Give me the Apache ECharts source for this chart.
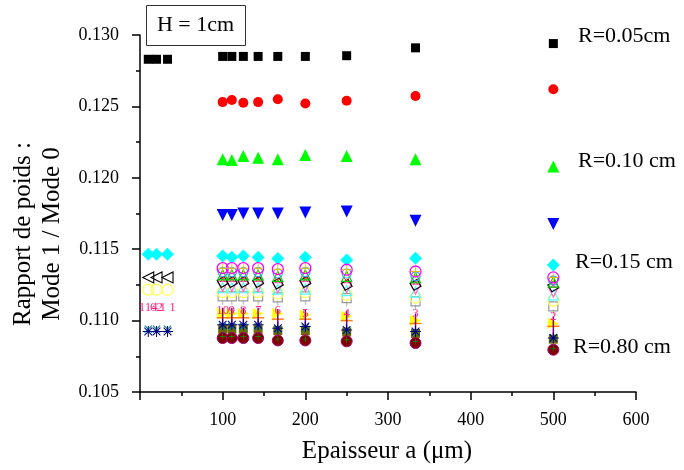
<!DOCTYPE html>
<html><head><meta charset="utf-8">
<script src="https://cdn.jsdelivr.net/npm/echarts@6/dist/echarts.min.js"></script>
<style>html,body{margin:0;padding:0;background:#fff}#c{width:684px;height:470px}</style>
</head><body><div id="c"></div>
<script>
// ---- data ----
const xLeft = [10, 20, 33.3];
const xMain = [100, 111.1, 125, 142.9, 166.7, 200, 250, 333.3, 500];
const xAll = xLeft.concat(xMain);
const xTicks = [0, 100, 200, 300, 400, 500, 600];
const yTicks = [0.105, 0.110, 0.115, 0.120, 0.125, 0.130];

const yBlackSquare   = [0.1283, 0.1283, 0.1283, 0.1285, 0.1285, 0.1285, 0.1285, 0.1285, 0.1285, 0.12855, 0.1291, 0.1294];
const yRedCircle     = [0.1253, 0.12545, 0.12526, 0.1253, 0.1255, 0.1252, 0.1254, 0.12573, 0.1262];
const yGreenTri      = [0.1213, 0.12125, 0.12153, 0.1214, 0.1213, 0.1216, 0.12153, 0.1213, 0.1208];
const yBlueDown      = [0.1174, 0.1174, 0.1175, 0.1175, 0.1175, 0.11757, 0.11764, 0.1170, 0.11677];
const yCyanDiamond   = [0.11465, 0.11465, 0.11465, 0.11453, 0.11444, 0.11453, 0.11444, 0.11435, 0.11444, 0.11425, 0.11437, 0.1139];
const yMagentaCircle = [0.11367, 0.11367, 0.11367, 0.11367, 0.1136, 0.11367, 0.11356, 0.11344, 0.11302];
const yBlueCircle    = [0.1134, 0.1134, 0.1134, 0.1134, 0.1133, 0.1134, 0.1133, 0.1131, 0.1128];
const yGreenTriOpen  = [0.1132, 0.1132, 0.1132, 0.1132, 0.1131, 0.1132, 0.1131, 0.1130, 0.1127];
const yRedX          = [0.1129, 0.1129, 0.1129, 0.1129, 0.1128, 0.1129, 0.1128, 0.1127, 0.1125];
const yBlackDiamond  = [0.1127, 0.1127, 0.1127, 0.1127, 0.1126, 0.1127, 0.1125, 0.1125, 0.1124];
const yBlackLeftTri  = [0.11302, 0.11302, 0.11302];
const yMagentaDown   = [0.1124, 0.1124, 0.1124, 0.1124, 0.1123, 0.1124, 0.1123, 0.1122, 0.1120];
const yCyanUpOpen    = [0.1123, 0.1123, 0.1123, 0.1123, 0.1122, 0.1122, 0.1121, 0.1120, 0.1118];
const yYellowCircle  = [0.11216, 0.11216, 0.11216, 0.1120, 0.1120, 0.1120, 0.1120, 0.1119, 0.1120, 0.1118, 0.1116, 0.1114];
const yGraySquare    = [0.11169, 0.11169, 0.11169, 0.11169, 0.11162, 0.11169, 0.11157, 0.11134, 0.1110];
const yPinkText      = [0.11092, 0.11092, 0.11092, 0.1107, 0.1107, 0.1107, 0.1107, 0.1107, 0.1105, 0.1105, 0.1105, 0.1103];
const pinkLabels     = ['114', '62', '1 1', '10', '9', '8', '7', '6', '5', '4', '3', '2'];
const yYellowRight   = [0.1105, 0.1105, 0.1105, 0.1105, 0.1105, 0.1104, 0.1103, 0.1100, 0.1098];
const yPurpleBar     = [0.1102, 0.1102, 0.1102, 0.1102, 0.1101, 0.1101, 0.1100, 0.1098, 0.1096];
const yNavyStar      = [0.10924, 0.10924, 0.10924, 0.10971, 0.10971, 0.10971, 0.10971, 0.10947, 0.10959, 0.10935, 0.10924, 0.10878];
const yTealX         = [0.1094, 0.1094, 0.1094, 0.1096, 0.1096, 0.1096, 0.1096, 0.1094, 0.1095, 0.1093, 0.1092, 0.1088];
const yOliveSquare   = [0.1094, 0.1094, 0.1094, 0.1094, 0.1093, 0.1093, 0.1092, 0.1091, 0.1087];
const yDarkRedCircle = [0.10878, 0.10878, 0.10878, 0.10878, 0.10861, 0.10861, 0.10855, 0.10843, 0.10796];

// ---- chart ----
const FONT = 'Liberation Serif';
const PLUS = 'path://M-1,-10L1,-10L1,10L-1,10Z M-10,-1L10,-1L10,1L-10,1Z';
const ASTER = 'path://M-0.9,-10L0.9,-10L0.9,10L-0.9,10Z M-10,-0.9L10,-0.9L10,0.9L-10,0.9Z M-7.7,-6.4L-6.4,-7.7L7.7,6.4L6.4,7.7Z M6.4,-7.7L7.7,-6.4L-6.4,7.7L-7.7,6.4Z';

function sc(name, xs, ys, opt) {
  const s = Object.assign({
    type: 'scatter', name: name, animation: false,
    data: xs.map((x, i) => [x, ys[i]])
  }, opt);
  s.itemStyle = Object.assign({ opacity: 1 }, s.itemStyle || {});
  s.emphasis = { disabled: true };
  return s;
}
function filled(c) { return { color: c }; }
function open(c, w) { return { color: 'rgba(0,0,0,0)', borderColor: c, borderWidth: w || 1.2 }; }

const series = [
  sc('blackSquare', xAll, yBlackSquare, { symbol: 'rect', symbolSize: 9, itemStyle: filled('#000') }),
  sc('redCircle', xMain, yRedCircle, { symbol: 'circle', symbolSize: 10, itemStyle: filled('#ff0000') }),
  sc('greenTri', xMain, yGreenTri, { symbol: 'triangle', symbolSize: 12, itemStyle: filled('#00ff00') }),
  sc('blueDown', xMain, yBlueDown, { symbol: 'triangle', symbolRotate: 180, symbolSize: 12, itemStyle: filled('#0000ff') }),
  sc('cyanDiamond', xAll, yCyanDiamond, { symbol: 'diamond', symbolSize: 13, itemStyle: filled('#00ffff') }),
  sc('grayText', xMain, yGraySquare.map(v => v - 0.0004), { symbol: 'rect', symbolSize: [1, 5], itemStyle: filled('#b0b0b0') }),
  sc('graySquare', xMain, yGraySquare, { symbol: 'rect', symbolSize: 9, itemStyle: open('#999999', 1.2) }),
  sc('yellowCircle', xAll, yYellowCircle, { symbol: 'circle', symbolSize: 11, itemStyle: open('#ffff55', 1.3) }),
  sc('cyanUpOpen', xMain, yCyanUpOpen, { symbol: 'triangle', symbolSize: 10, itemStyle: open('#55ffff', 1.2) }),
  sc('magentaDown', xMain, yMagentaDown, { symbol: 'triangle', symbolRotate: 180, symbolSize: 10, itemStyle: open('#ff66cc', 1.2) }),
  sc('blackDiamond', xMain, yBlackDiamond, { symbol: 'rect', symbolRotate: 30, symbolSize: 8, itemStyle: open('#000', 1.1) }),
  sc('blackLeftTri', xLeft, yBlackLeftTri, { symbol: 'triangle', symbolRotate: 90, symbolSize: 11, itemStyle: open('#000', 1.1) }),
  sc('redX', xMain, yRedX, { symbol: PLUS, symbolRotate: 45, symbolSize: 7, itemStyle: filled('#ff0000') }),
  sc('greenTriOpen', xMain, yGreenTriOpen, { symbol: 'triangle', symbolSize: 10, itemStyle: open('#00cc00', 1.2) }),
  sc('blueCircle', xMain, yBlueCircle, { symbol: 'circle', symbolSize: 9, itemStyle: open('#3399ff', 1.2) }),
  sc('magentaCircle', xMain, yMagentaCircle, { symbol: 'circle', symbolSize: 11, itemStyle: open('#ff00ff', 1.3) }),
  sc('yellowPlus', xMain, yMagentaCircle, { symbol: PLUS, symbolSize: 9, itemStyle: filled('#e6c000') }),
  sc('pinkText', xAll, yPinkText, {
    symbol: 'circle', symbolSize: 1, itemStyle: filled('rgba(0,0,0,0)'),
    label: { show: true, position: 'inside', formatter: p => pinkLabels[p.dataIndex], color: '#ff2a8a', fontFamily: FONT, fontSize: 13 }
  }),
  sc('yellowRight', xMain, yYellowRight, { symbol: 'triangle', symbolRotate: -90, symbolSize: 11, itemStyle: filled('#ffff00') }),
  sc('orangeDash', xMain, yPurpleBar, { symbol: 'rect', symbolSize: [12, 1.5], itemStyle: filled('#ff8000') }),
  sc('purpleBar', xMain, yPurpleBar, { symbol: 'rect', symbolSize: [1.5, 20], itemStyle: filled('#800080') }),
  sc('oliveSquare', xMain, yOliveSquare, { symbol: 'rect', symbolSize: 9, itemStyle: filled('#6b6b00') }),
  sc('tealX', xAll, yTealX, { symbol: PLUS, symbolRotate: 45, symbolSize: 10, itemStyle: filled('#008080') }),
  sc('navyStar', xAll, yNavyStar, { symbol: ASTER, symbolSize: 11, itemStyle: filled('#000080') }),
  sc('darkRedCircle', xMain, yDarkRedCircle, { symbol: 'circle', symbolSize: 11, itemStyle: { color: '#800000', borderColor: '#a0007a', borderWidth: 1 } }),
  sc('greenPlus', xMain, yDarkRedCircle.map(v => v + 0.0001), { symbol: PLUS, symbolSize: 6, itemStyle: filled('#00a000') })
];

const axisCommon = {
  type: 'value',
  axisLine: { show: true, onZero: false, lineStyle: { color: '#000', width: 1.5 } },
  axisTick: { show: true, inside: false, length: 8, lineStyle: { color: '#000', width: 1.5 } },
  minorTick: { show: true, splitNumber: 2, length: 4, lineStyle: { color: '#000', width: 1.5 } },
  splitLine: { show: false },
  minorSplitLine: { show: false }
};

const chart = echarts.init(document.getElementById('c'), null, { renderer: 'canvas' });
chart.setOption({
  backgroundColor: '#fff',
  animation: false,
  grid: { left: 140, right: 48, top: 35, bottom: 78, containLabel: false, outerBoundsMode: 'none' },
  xAxis: Object.assign({}, axisCommon, {
    min: xTicks[0], max: xTicks[xTicks.length - 1], interval: 100,
    axisLabel: { margin: 19, color: '#000', fontFamily: FONT, fontSize: 18,
      formatter: v => (v === 0 ? '' : String(v)) }
  }),
  yAxis: Object.assign({}, axisCommon, {
    min: yTicks[0], max: yTicks[yTicks.length - 1], interval: 0.005,
    axisLabel: { margin: 21, color: '#000', fontFamily: FONT, fontSize: 18,
      formatter: v => v.toFixed(3) }
  }),
  graphic: [
    { type: 'rect', left: 146, top: 5, shape: { width: 99, height: 40 },
      style: { fill: '#fff', stroke: '#333', lineWidth: 1 } },
    { type: 'text', x: 195.5, y: 25, style: { text: 'H = 1cm', font: '22px "Liberation Serif"', fill: '#000', align: 'center', verticalAlign: 'middle' } },
    { type: 'text', x: 578, y: 36, style: { text: 'R=0.05cm', font: '22px "Liberation Serif"', fill: '#000', align: 'left', verticalAlign: 'middle' } },
    { type: 'text', x: 578, y: 161, style: { text: 'R=0.10 cm', font: '22px "Liberation Serif"', fill: '#000', align: 'left', verticalAlign: 'middle' } },
    { type: 'text', x: 575, y: 262, style: { text: 'R=0.15 cm', font: '22px "Liberation Serif"', fill: '#000', align: 'left', verticalAlign: 'middle' } },
    { type: 'text', x: 573, y: 347, style: { text: 'R=0.80 cm', font: '22px "Liberation Serif"', fill: '#000', align: 'left', verticalAlign: 'middle' } },
    { type: 'text', x: 387, y: 451, style: { text: 'Epaisseur a (\u03bcm)', font: '25px "Liberation Serif"', fill: '#000', align: 'center', verticalAlign: 'middle' } },
    { type: 'text', x: 38, y: 234, rotation: Math.PI / 2,
      style: { text: 'Rapport de poids :\nMode 1 / Mode 0', font: '25px "Liberation Serif"', lineHeight: 29, fill: '#000', align: 'center', verticalAlign: 'middle' } }
  ],
  series: series
});
</script>
</body></html>
